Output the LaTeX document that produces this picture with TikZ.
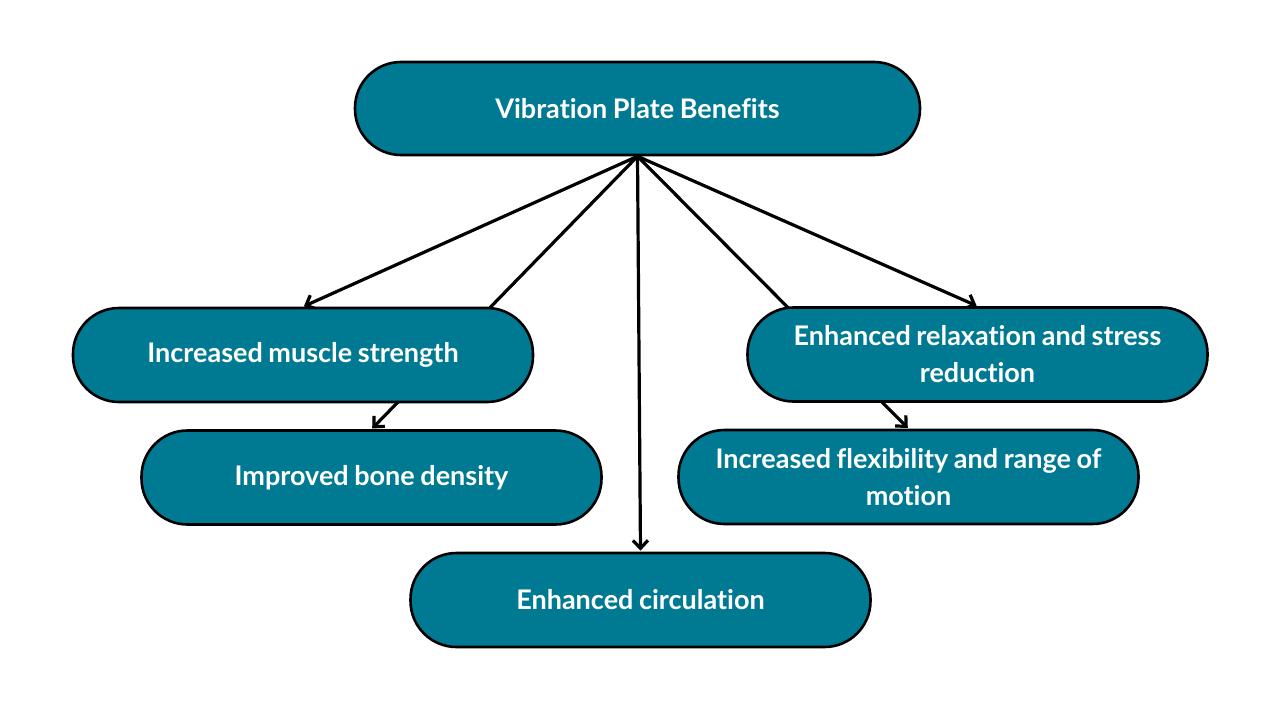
\documentclass[tikz,border=0pt]{standalone}
\usepackage{fontspec}
\setmainfont{Lato}[UprightFont=* Bold,Ligatures=NoCommon,WordSpace=0.85]
\usetikzlibrary{arrows.meta,backgrounds}
\definecolor{teal1}{RGB}{0,122,147}
\begin{document}
\begin{tikzpicture}[x=1pt,y=-1pt,
  pill/.style={draw=black,line width=2.6pt,fill=teal1,rounded corners=46pt,
    minimum width=460pt,minimum height=94pt,text=white,align=center,
    font=\fontsize{27}{37}\selectfont,inner sep=0pt},
  conn/.style={line width=3.2pt,shorten >=1pt,-{Straight Barb[length=8pt,width=15pt,line width=3.2pt]}}]
\useasboundingbox (0,0) rectangle (1280,720);
\node[pill,minimum width=565pt,minimum height=93pt] (top) at (637.5,108.5) {Vibration Plate Benefits};
\node[pill] (muscle) at (303,355) {Increased muscle strength};
\node[pill] (bone) at (371.5,477.5) {Improved bone density};
\node[pill] (circ) at (640.5,600) {Enhanced circulation};
\node[pill] (relax) at (977.5,354.5) {Enhanced relaxation and stress\\reduction};
\node[pill] (flex) at (908.5,477) {Increased flexibility and range of\\motion};
\begin{scope}[on background layer]
\fill[white] (0,0) rectangle (1280,720);
\draw[conn] (top.south) -- (muscle.north);
\draw[conn] (top.south) -- (bone.north);
\draw[conn] (top.south) -- (circ.north);
\draw[conn] (top.south) -- (relax.north);
\draw[conn] (top.south) -- (flex.north);
\end{scope}
\end{tikzpicture}
\end{document}
